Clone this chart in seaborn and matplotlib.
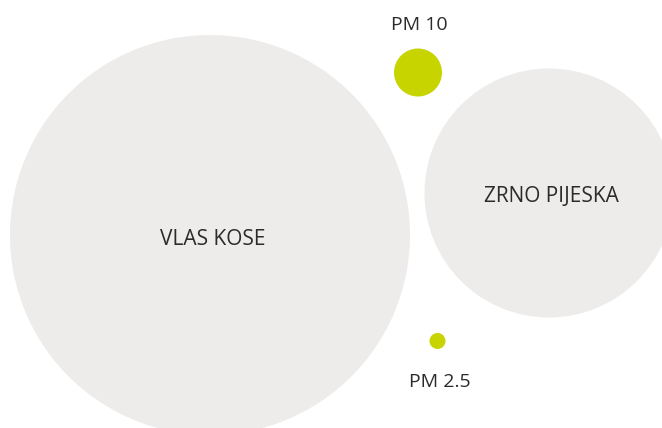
#!/usr/bin/env python3
"""Particle size comparison: bubble chart of hair, sand grain, PM10 and PM2.5"""

import matplotlib
matplotlib.use("Agg")
import matplotlib.pyplot as plt
import seaborn as sns
import pandas as pd

# Data: label and drawn diameter (px) of each particle
labels = ["VLAS KOSE", "ZRNO PIJESKA", "PM 10", "PM 2.5"]
diameters = [400, 249, 48, 16]
colors = ["#edeceb", "#edeceb", "#c8d400", "#c8d400"]

# Layout (pixel coordinates, y down)
centers_x = [210, 549, 418, 437.5]
centers_y = [235, 193, 72.5, 341]
label_x = [213, 551, 419, 440]
label_y = [239.5, 196, 25, 382]
label_size = [15, 15, 14, 14]

W, H, DPI = 662, 428, 100

sns.set_theme(style="white")
plt.rcParams["font.family"] = ["Open Sans", "DejaVu Sans"]

df = pd.DataFrame({"label": labels, "d": diameters, "x": centers_x, "y": centers_y})

fig = plt.figure(figsize=(W / DPI, H / DPI), dpi=DPI)
ax = fig.add_axes([0, 0, 1, 1])

# marker size in points^2 from pixel diameter
sizes = {l: (d * 72 / DPI) ** 2 for l, d in zip(labels, diameters)}
palette = dict(zip(labels, colors))

sns.scatterplot(data=df, x="x", y="y", hue="label", size="label",
                sizes=sizes, palette=palette, linewidth=0, legend=False,
                alpha=1, ax=ax)

for txt, tx, ty, fs in zip(labels, label_x, label_y, label_size):
    ax.text(tx, ty, txt, ha="center", va="center", fontsize=fs,
            color="#2b2b2b")

ax.set_xlim(0, W)
ax.set_ylim(H, 0)
ax.axis("off")

fig.savefig("out.png", dpi=DPI, facecolor="white")
plt.close(fig)
